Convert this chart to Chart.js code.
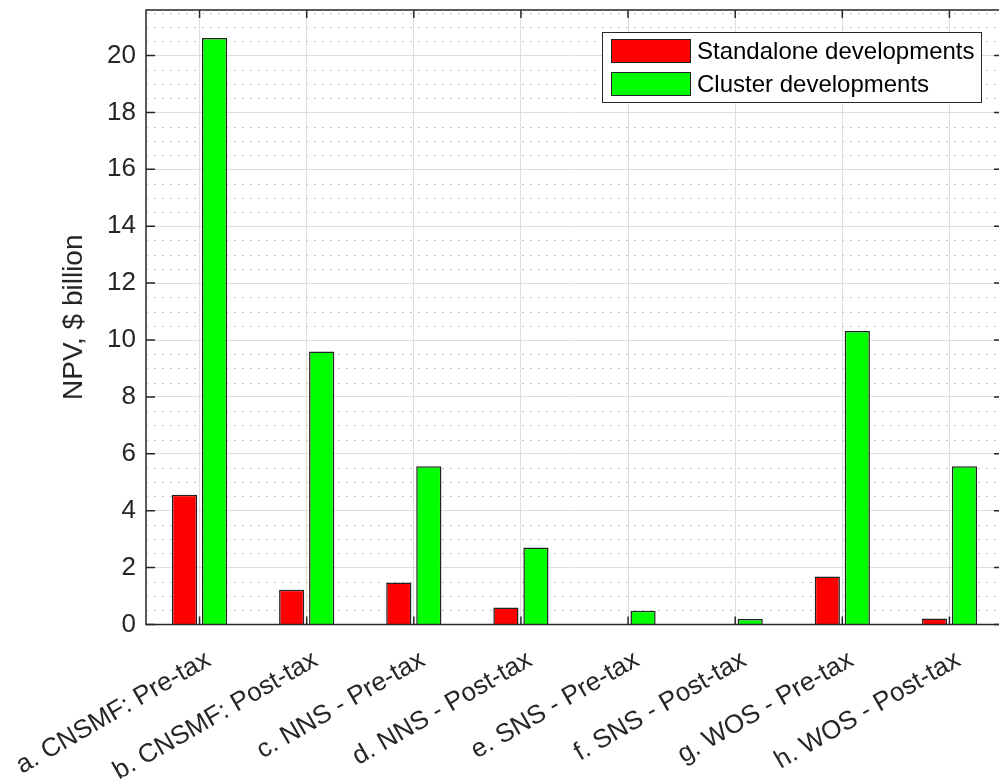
<!DOCTYPE html>
<html>
<head>
<meta charset="utf-8">
<script src="https://cdn.jsdelivr.net/npm/chart.js@4.4.0/dist/chart.umd.min.js"></script>
<style>
  html, body { margin: 0; padding: 0; background: #fff; overflow: hidden; }
  #wrap { position: relative; width: 1010px; height: 781px; }
</style>
</head>
<body>
<div id="wrap"><canvas id="npv"></canvas></div>
<script>
// NPV per development case, $ billion
const categories = [
  'a. CNSMF: Pre-tax', 'b. CNSMF: Post-tax', 'c. NNS - Pre-tax', 'd. NNS - Post-tax',
  'e. SNS - Pre-tax', 'f. SNS - Post-tax', 'g. WOS - Pre-tax', 'h. WOS - Post-tax'
];
const standalone = [4.56, 1.22, 1.48, 0.60, 0.02, 0.01, 1.69, 0.21];
const cluster = [20.62, 9.60, 5.56, 2.71, 0.48, 0.19, 10.32, 5.56];
const seriesNames = ['Standalone developments', 'Cluster developments'];
const yMajorTicks = [0, 2, 4, 6, 8, 10, 12, 14, 16, 18, 20];

const FONT = "'Liberation Sans', Arial, Helvetica, sans-serif";
const AXIS = '#262626';

// matlab style: dotted minor grid, full box and inward ticks
const axesPlugin = {
  id: 'matlabAxes',
  beforeDatasetsDraw(chart) {
    const {ctx, chartArea: a, scales: {y}} = chart;
    ctx.save();
    ctx.strokeStyle = '#c4c4c4';
    ctx.lineWidth = 1;
    ctx.setLineDash([2, 6]);
    for (let v = 0.5; v < y.max; v += 0.5) {
      if (v % 2 === 0) continue;
      const py = Math.round(y.getPixelForValue(v)) + 0.5;
      ctx.beginPath(); ctx.moveTo(a.left, py); ctx.lineTo(a.right, py); ctx.stroke();
    }
    ctx.restore();
  },
  afterDatasetsDraw(chart) {
    const {ctx, chartArea: a, scales: {x, y}} = chart;
    ctx.save();
    ctx.strokeStyle = AXIS;
    ctx.lineWidth = 1.5;
    ctx.beginPath();
    categories.forEach((c, i) => {
      const px = x.getPixelForValue(i);
      ctx.moveTo(px, a.bottom); ctx.lineTo(px, a.bottom - 8);
      ctx.moveTo(px, a.top); ctx.lineTo(px, a.top + 8);
    });
    yMajorTicks.forEach(v => {
      const py = y.getPixelForValue(v);
      ctx.moveTo(a.left, py); ctx.lineTo(a.left + 9, py);
      ctx.moveTo(a.right, py); ctx.lineTo(a.right - 9, py);
    });
    ctx.stroke();
    ctx.strokeRect(a.left, a.top, a.right - a.left, a.bottom - a.top);
    ctx.restore();
  },
  afterDraw(chart) {
    // legend box in the top right corner of the axes
    const {ctx} = chart;
    const box = {x: 602, y: 32, w: 379, h: 70};
    ctx.save();
    ctx.fillStyle = '#fff';
    ctx.fillRect(box.x, box.y, box.w, box.h);
    ctx.strokeStyle = AXIS;
    ctx.lineWidth = 1;
    ctx.strokeRect(box.x + 0.5, box.y + 0.5, box.w, box.h);
    ctx.font = '24px ' + FONT;
    ctx.textBaseline = 'middle';
    chart.data.datasets.forEach((ds, i) => {
      const sy = box.y + 7 + i * 33;
      ctx.fillStyle = ds.backgroundColor;
      ctx.fillRect(box.x + 9, sy, 79, 24);
      ctx.strokeStyle = '#222';
      ctx.strokeRect(box.x + 9.5, sy + 0.5, 79, 23);
      ctx.fillStyle = '#000';
      ctx.fillText(ds.label, box.x + 95, sy + 13);
    });
    ctx.restore();
  }
};

new Chart('npv', {
  type: 'bar',
  data: {
    labels: categories,
    datasets: [
      {label: seriesNames[0], data: standalone, backgroundColor: '#ff0000', borderColor: '#222', borderWidth: 1.5},
      {label: seriesNames[1], data: cluster, backgroundColor: '#00ff00', borderColor: '#222', borderWidth: 1.5}
    ]
  },
  options: {
    responsive: true,
    maintainAspectRatio: false,
    animation: false,
    categoryPercentage: 0.56,
    barPercentage: 0.84,
    layout: {padding: {top: 10, right: 7, left: 0, bottom: 0}},
    plugins: {legend: {display: false}, tooltip: {enabled: false}},
    scales: {
      x: {
        grid: {offset: false, color: '#dedede', lineWidth: 1, drawTicks: false},
        border: {display: false},
        ticks: {color: AXIS, font: {family: FONT, size: 26}, minRotation: 30, maxRotation: 30, padding: 20, labelOffset: 9},
        afterFit: s => { s.height = 156.5; s.paddingLeft = 0; s.paddingRight = 0; }
      },
      y: {
        min: 0,
        max: 21.6,
        grid: {color: '#dedede', lineWidth: 1, drawTicks: false},
        border: {display: false},
        ticks: {stepSize: 2, includeBounds: false, color: AXIS, font: {family: FONT, size: 26}, padding: 10},
        title: {display: true, text: 'NPV, $ billion', color: AXIS, font: {family: FONT, size: 28}, padding: {top: 57}},
        afterFit: s => { s.width = 146; s.paddingTop = 0; s.paddingBottom = 0; }
      }
    }
  },
  plugins: [axesPlugin]
});
</script>
</body>
</html>
